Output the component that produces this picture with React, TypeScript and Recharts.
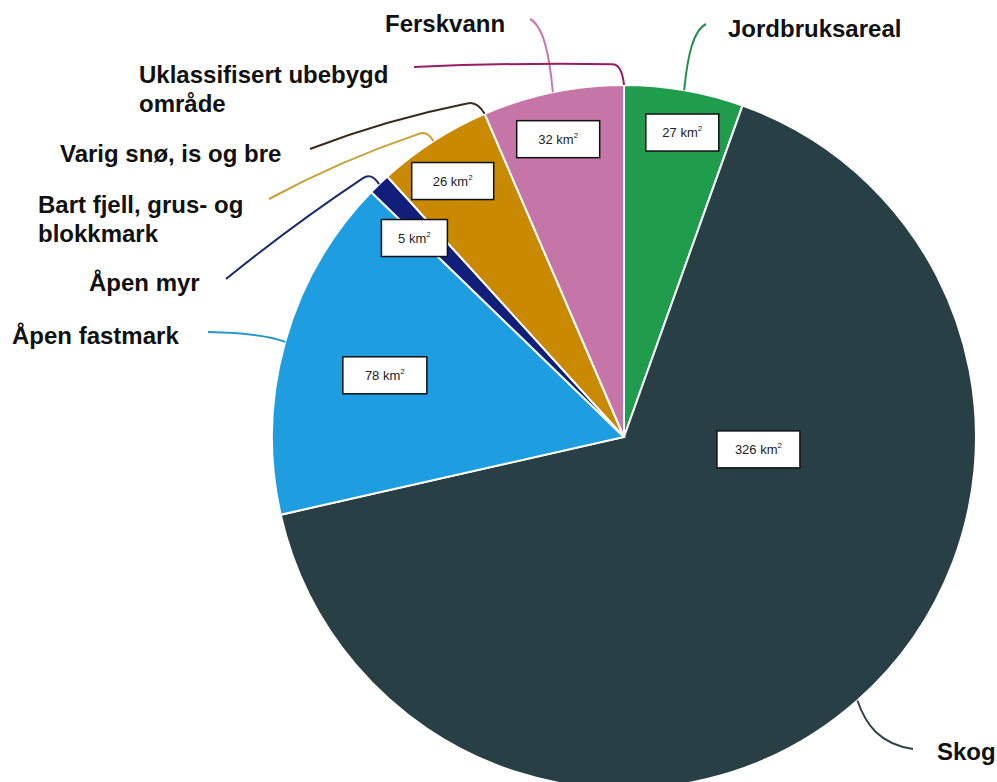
import { Cell, Pie, PieChart } from "recharts";

const categories = [
  "Jordbruksareal",
  "Skog",
  "Åpen fastmark",
  "Åpen myr",
  "Bart fjell, grus- og blokkmark",
  "Varig snø, is og bre",
  "Ferskvann",
  "Uklassifisert ubebygd område",
];
const areas = [27, 326, 78, 5, 26, 0, 32, 0];
const sliceColors = ["#1f9d4c", "#283f46", "#1e9de0", "#111f7a", "#c98900", "#c98900", "#c575a8", "#c575a8"];
const lineColors = ["#2a8f55", "#2f4248", "#2a96cf", "#1c2a6e", "#c9a035", "#3b2a1c", "#c77aab", "#9c1c64"];
// label text wrapped as in the figure
const labelText = [
  ["Jordbruksareal"],
  ["Skog"],
  ["Åpen fastmark"],
  ["Åpen myr"],
  ["Bart fjell, grus- og", "blokkmark"],
  ["Varig snø, is og bre"],
  ["Ferskvann"],
  ["Uklassifisert ubebygd", "område"],
];

const data = categories.map((name, i) => ({ name, value: areas[i] }));

// callout layout, offsets from the pie centre (px); box angle shift in degrees clockwise
type Callout = {
  text: [number, number];
  tail: [number, number];
  hook?: [number, number];
  bend?: number;
  box?: { r: number; shift: number; w: number };
};
const callouts: Callout[] = [
  { text: [104, -400], tail: [82, -413], box: { r: 310, shift: 1, w: 73 } },
  { text: [313, 323], tail: [289, 312], box: { r: 135, shift: -43.2, w: 83 } },
  { text: [-612, -93], tail: [-416, -105], box: { r: 247, shift: -1.2, w: 84 } },
  { text: [-535, -146], tail: [-398, -158], hook: [-8, -12], bend: 4, box: { r: 289, shift: -2.4, w: 66 } },
  { text: [-586, -224], tail: [-355, -238], hook: [-6, -11], bend: 7, box: { r: 308, shift: -1, w: 82 } },
  { text: [-564, -275], tail: [-314, -288], hook: [-8, -13], bend: 7 },
  { text: [-239, -405], tail: [-94, -418], box: { r: 305, shift: -0.8, w: 83 } },
  { text: [-485, -354], tail: [-210, -370], hook: [-2, -21], bend: 3 },
];

const FONT = "'Liberation Sans', Arial, sans-serif";
const RAD = Math.PI / 180;

function polar(cx: number, cy: number, r: number, angle: number) {
  return [cx + r * Math.cos(angle * RAD), cy - r * Math.sin(angle * RAD)];
}

function SliceLabel(props: any) {
  const { cx, cy, midAngle, outerRadius, index, value } = props;
  const c = callouts[index];
  const [ex, ey] = polar(cx, cy, outerRadius, midAngle);
  const tx = cx + c.tail[0];
  const ty = cy + c.tail[1];

  let path: string;
  if (c.hook) {
    const hx = ex + c.hook[0];
    const hy = ey + c.hook[1];
    const len = Math.hypot(hx - tx, hy - ty);
    const ux = (hx - tx) / len;
    const uy = (hy - ty) / len;
    const px = hx - ux * 10;
    const py = hy - uy * 10;
    // slight upward bow on the long run
    const b = c.bend ?? 0;
    const mx = (tx + px) / 2 + uy * b;
    const my = (ty + py) / 2 - ux * b;
    path = `M${tx},${ty} Q${mx},${my} ${px},${py} Q${hx},${hy} ${ex},${ey}`;
  } else {
    const dx = tx - ex;
    const dy = ty - ey;
    path = `M${ex},${ey} C${ex + 0.15 * dx},${ey + 0.5 * dy} ${ex + 0.4 * dx},${ey + 0.9 * dy} ${tx},${ty}`;
  }

  let box = null;
  if (c.box && value > 0) {
    const [bx, by] = polar(cx, cy, c.box.r, midAngle - c.box.shift);
    box = (
      <g>
        <rect x={bx - c.box.w / 2} y={by - 18.5} width={c.box.w} height={37} fill="#fff" stroke="#111" strokeWidth={1.5} />
        <text x={bx} y={by + 4.5} textAnchor="middle" fontSize={13} fontFamily={FONT} fill="#222">
          <tspan>{value} km</tspan>
          <tspan fontSize={8} dy={-6}>2</tspan>
        </text>
      </g>
    );
  }

  return (
    <g>
      <path d={path} fill="none" stroke={lineColors[index]} strokeWidth={2} />
      <text
        x={cx + c.text[0]}
        y={cy + c.text[1]}
        fontSize={24}
        fontWeight="bold"
        fontFamily={FONT}
        fill="#111"
      >
        {labelText[index].map((line, k) => (
          <tspan key={k} x={cx + c.text[0]} dy={k === 0 ? 0 : 29}>
            {line}
          </tspan>
        ))}
      </text>
      {box}
    </g>
  );
}

export default function App() {
  return (
    <div style={{ position: "absolute", left: 0, top: 0, width: 997, height: 782, background: "#fff" }}>
      <PieChart width={997} height={782} margin={{ top: 0, right: 0, bottom: 0, left: 0 }}>
        <Pie
          data={data}
          dataKey="value"
          nameKey="name"
          cx={624}
          cy={437}
          outerRadius={352}
          startAngle={90}
          endAngle={-270}
          stroke="#fff"
          strokeWidth={2}
          label={SliceLabel}
          labelLine={false}
          isAnimationActive={false}
        >
          {data.map((d, i) => (
            <Cell key={d.name} fill={sliceColors[i]} />
          ))}
        </Pie>
      </PieChart>
    </div>
  );
}
